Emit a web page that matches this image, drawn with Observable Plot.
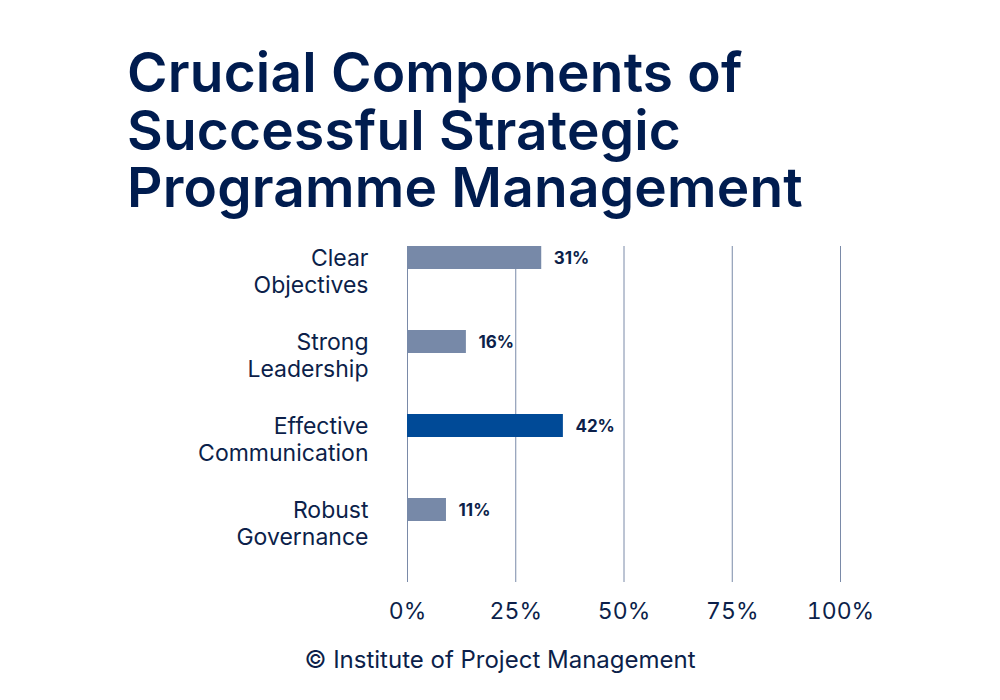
<!DOCTYPE html>
<html>
<head>
<meta charset="utf-8">
<script src="https://cdn.jsdelivr.net/npm/d3@7"></script>
<script src="https://cdn.jsdelivr.net/npm/@observablehq/plot@0.6"></script>
<style>
  html, body { margin: 0; padding: 0; background: #fff; }
  body { width: 1000px; height: 700px; position: relative; overflow: hidden; font-family: Inter, "Noto Sans", sans-serif; }
  #title { position: absolute; left: 127px; top: 44px; margin: 0; font-size: 55px; font-weight: 600; color: #001c4f; letter-spacing: 0.2px; }
  #title div { height: 57.5px; line-height: 57.5px; white-space: nowrap; }
  #chart { position: absolute; left: 0; top: 230px; }
  #caption { position: absolute; left: 0; width: 1000px; top: 646px; text-align: center; font-size: 24px; line-height: 28px; color: #0c1f4a; }
</style>
</head>
<body>
<h1 id="title"><div>Crucial Components of</div><div>Successful Strategic</div><div>Programme Management</div></h1>
<div id="chart"></div>
<div id="caption">© Institute of Project Management</div>
<script>
const categories = ["Clear\nObjectives", "Strong\nLeadership", "Effective\nCommunication", "Robust\nGovernance"];
const barValues = [31, 13.6, 36, 9];
const valueLabels = ["31%", "16%", "42%", "11%"];
const highlight = [false, false, true, false];
const xTicks = [0, 25, 50, 75, 100];

const data = categories.map((c, i) => ({category: c, value: barValues[i], label: valueLabels[i], hl: highlight[i]}));

const chart = Plot.plot({
  width: 1000,
  height: 410,
  marginLeft: 407,
  marginRight: 160,
  marginTop: 16,
  marginBottom: 58,
  style: {fontFamily: "Inter, 'Noto Sans', sans-serif", color: "#0c1f4a", background: "transparent"},
  x: {domain: [0, 100]},
  y: {domain: categories, padding: 0, axis: null},
  marks: [
    Plot.gridX(xTicks, {stroke: "#7a8aa8", strokeOpacity: 1, strokeWidth: 1}),
    Plot.barX(data, {x: "value", y: "category", fill: d => d.hl ? "#004a97" : "#7789a8", insetBottom: 61, insetTop: 0}),
    Plot.text(data, {x: "value", y: "category", text: "label", dx: 12, dy: -29.5, textAnchor: "start", fontWeight: 700, fontSize: 17, fill: "#0c1f4a"}),
    Plot.text(data, {y: "category", text: "category", frameAnchor: "left", dx: -39, dy: -18, textAnchor: "end", lineAnchor: "middle", lineHeight: 1.17, fontSize: 23, fill: "#0c1f4a"}),
    Plot.axisX({ticks: xTicks, tickFormat: d => d + "%", tickSize: 0, tickPadding: 20, fontSize: 23, fill: "#0c1f4a", label: null})
  ]
});
document.getElementById("chart").appendChild(chart);
</script>
</body>
</html>
